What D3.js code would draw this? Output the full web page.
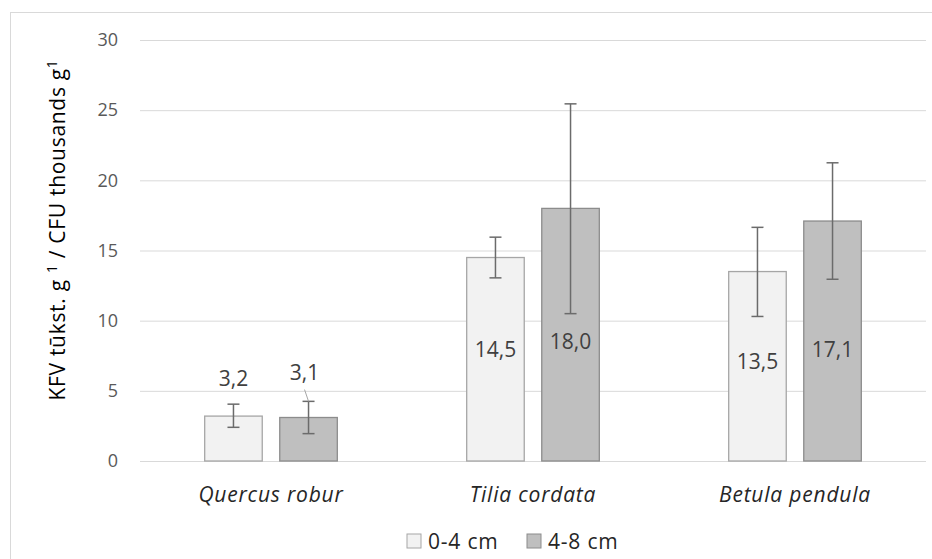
<!DOCTYPE html>
<html>
<head>
<meta charset="utf-8">
<script src="https://cdn.jsdelivr.net/npm/d3@7"></script>
<style>
  body { margin: 0; background: #fff; }
  svg { font-family: "Open Sans", "Noto Sans", sans-serif; }
</style>
</head>
<body>
<div id="chart"></div>
<script>
// data
const species = ["Quercus robur", "Tilia cordata", "Betula pendula"];
const depths = ["0-4 cm", "4-8 cm"];
const mean0_4 = [3.2, 14.5, 13.5];
const mean4_8 = [3.1, 18.0, 17.1];
const err0_4 = [[2.4, 4.05], [13.05, 15.95], [10.3, 16.65]];
const err4_8 = [[1.95, 4.25], [10.5, 25.45], [12.95, 21.25]];
const yTicks = [0, 5, 10, 15, 20, 25, 30];

// where the data labels sit (value units), they were dragged by hand in the original
const labelAt0_4 = [5.9, 7.9, 7.1];
const labelAt4_8 = [6.3, 8.5, 7.9];

const width = 932, height = 559;
const fills = ["#f2f2f2", "#bfbfbf"];
const strokes = ["#a6a6a6", "#8c8c8c"];

const rows = [];
species.forEach((s, i) => {
  rows.push({ sp: s, depth: depths[0], v: mean0_4[i], lo: err0_4[i][0], hi: err0_4[i][1], lab: labelAt0_4[i], k: 0 });
  rows.push({ sp: s, depth: depths[1], v: mean4_8[i], lo: err4_8[i][0], hi: err4_8[i][1], lab: labelAt4_8[i], k: 1 });
});

const svg = d3.select("#chart")
              .append("svg")
              .attr("width", width)
              .attr("height", height);

// chart area border
svg.append("rect")
   .attr("x", 10.5).attr("y", 12.5)
   .attr("width", 940).attr("height", 560)
   .attr("fill", "#fff")
   .attr("stroke", "#d9d9d9");

const y = d3.scaleLinear().domain([0, 30]).range([461, 40]);

const x0 = d3.scaleBand()
             .domain(species)
             .range([140, 926])
             .paddingInner(0.49)
             .paddingOuter(0.245);

const x1 = d3.scaleBand()
             .domain(depths)
             .range([0, x0.bandwidth()])
             .paddingInner(0.22);

// gridlines + tick labels
const yAxis = svg.append("g")
   .attr("transform", "translate(140,0)")
   .call(d3.axisLeft(y).tickValues(yTicks).tickSize(-786).tickPadding(22));
yAxis.select(".domain").remove();
yAxis.selectAll(".tick line").attr("stroke", "#d9d9d9");
yAxis.selectAll(".tick text")
     .attr("fill", "#595959")
     .style("font-size", "18px")
     .style("font-family", "'Open Sans', sans-serif");

// y axis title
const title = svg.append("text")
   .attr("transform", "translate(65,230) rotate(-90)")
   .attr("text-anchor", "middle")
   .attr("fill", "#000")
   .style("font-size", "21px")
   .style("letter-spacing", "0.7px");
title.append("tspan").text("KFV tūkst. g ");
title.append("tspan").attr("dy", -8).style("font-size", "14px").text("1");
title.append("tspan").attr("dy", 8).text(" / CFU thousands g");
title.append("tspan").attr("dy", -8).style("font-size", "14px").text("1");

// bars
const g = svg.append("g");
g.selectAll("rect.bar")
 .data(rows)
 .enter()
 .append("rect")
 .attr("class", "bar")
 .attr("x", d => x0(d.sp) + x1(d.depth) + 0.5)
 .attr("y", d => y(d.v))
 .attr("width", x1.bandwidth() - 1)
 .attr("height", d => y(0) - y(d.v))
 .attr("fill", d => fills[d.k])
 .attr("stroke", d => strokes[d.k])
 .attr("stroke-width", 1.3);

// error bars
const cx = d => x0(d.sp) + x1(d.depth) + x1.bandwidth() / 2;
const eb = g.selectAll("g.err")
 .data(rows)
 .enter()
 .append("g")
 .attr("class", "err")
 .attr("stroke", "#6b6b6b")
 .attr("stroke-width", 1.5);
eb.append("line")
  .attr("x1", cx).attr("x2", cx)
  .attr("y1", d => y(d.lo)).attr("y2", d => y(d.hi));
eb.append("line")
  .attr("x1", d => cx(d) - 6).attr("x2", d => cx(d) + 6)
  .attr("y1", d => y(d.lo)).attr("y2", d => y(d.lo));
eb.append("line")
  .attr("x1", d => cx(d) - 6).attr("x2", d => cx(d) + 6)
  .attr("y1", d => y(d.hi)).attr("y2", d => y(d.hi));

// leader line for the small 4-8 label
const lead = rows.filter(d => d.k === 1 && d.lab > d.hi);
g.selectAll("line.lead")
 .data(lead)
 .enter()
 .append("line")
 .attr("class", "lead")
 .attr("x1", d => cx(d) - 4).attr("y1", d => y(d.lab) + 17)
 .attr("x2", d => cx(d)).attr("y2", d => y(d.hi))
 .attr("stroke", "#a6a6a6")
 .attr("stroke-width", 1);

// data labels
g.selectAll("text.val")
 .data(rows)
 .enter()
 .append("text")
 .attr("class", "val")
 .attr("x", d => cx(d) - (d.lab > d.hi && d.k === 1 ? 4 : 0))
 .attr("y", d => y(d.lab))
 .attr("dy", "0.35em")
 .attr("text-anchor", "middle")
 .attr("fill", "#404040")
 .style("font-size", "21px")
 .text(d => d.v.toFixed(1).replace(".", ","));

// category labels
svg.append("g")
   .selectAll("text")
   .data(species)
   .enter()
   .append("text")
   .attr("x", d => x0(d) + x0.bandwidth() / 2)
   .attr("y", 495)
   .attr("dy", "0.35em")
   .attr("text-anchor", "middle")
   .attr("fill", "#262626")
   .style("font-size", "21px")
   .style("letter-spacing", "0.8px")
   .style("font-style", "italic")
   .text(d => d);

// legend
const legX = [407, 527];
const leg = svg.append("g")
   .selectAll("g")
   .data(depths)
   .enter()
   .append("g")
   .attr("transform", (d, i) => `translate(${legX[i]},534)`);
leg.append("rect")
   .attr("width", 14).attr("height", 14)
   .attr("fill", (d, i) => fills[i])
   .attr("stroke", (d, i) => strokes[i]);
leg.append("text")
   .attr("x", 21).attr("y", 7)
   .attr("dy", "0.36em")
   .attr("fill", "#262626")
   .style("font-size", "21px")
   .style("letter-spacing", "0.8px")
   .text(d => d);
</script>
</body>
</html>
